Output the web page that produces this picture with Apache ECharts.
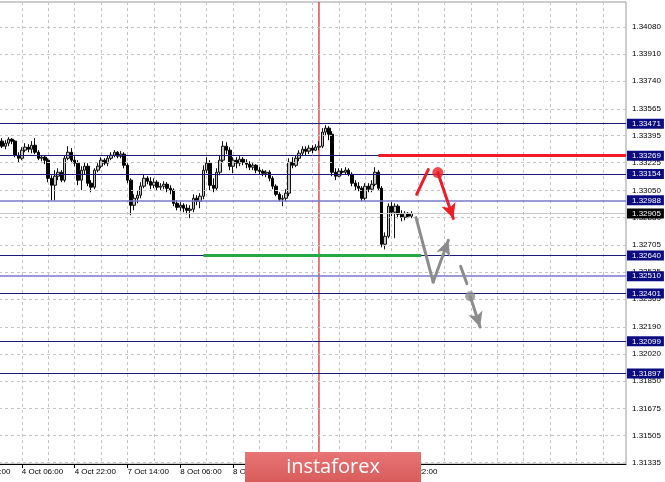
<!DOCTYPE html>
<html><head><meta charset="utf-8">
<script src="https://cdn.jsdelivr.net/npm/echarts@6/dist/echarts.min.js"></script>
<style>html,body{margin:0;padding:0;background:#fff}#c{width:665px;height:482px}</style>
</head><body><div id="c"></div>
<script>
// ---- data ----
const xTickLabels = ["3 Oct 14:00","4 Oct 06:00","4 Oct 22:00","7 Oct 14:00","8 Oct 06:00","8 Oct 22:00","9 Oct 14:00","10 Oct 06:00","10 Oct 22:00"];
const opens = [1.33317,1.33304,1.33323,1.33335,1.33317,1.33342,1.33329,1.33354,1.33335,1.33348,
1.33361,1.33329,1.33348,1.33373,1.33361,1.33272,1.33253,1.33304,1.33323,1.33310,
1.33335,1.33291,1.33253,1.33260,1.33241,1.33127,1.33083,1.33140,1.33165,1.33115,
1.33253,1.33291,1.33241,1.33222,1.33115,1.33178,1.33203,1.33096,1.33071,1.33178,
1.33203,1.33241,1.33222,1.33253,1.33272,1.33291,1.33266,1.33279,1.33209,1.33115,
1.32957,1.33001,1.33020,1.33077,1.33127,1.33108,1.33083,1.33102,1.33071,1.33077,
1.33089,1.33064,1.33052,1.32969,1.32944,1.32957,1.32938,1.32925,1.32932,1.33001,
1.32982,1.33014,1.33178,1.33222,1.33083,1.33064,1.33165,1.33241,1.33329,1.33304,
1.33203,1.33241,1.33222,1.33247,1.33228,1.33216,1.33197,1.33209,1.33178,1.33171,
1.33159,1.33165,1.33127,1.33077,1.33026,1.32995,1.33001,1.33033,1.33228,1.33209,
1.33253,1.33285,1.33310,1.33298,1.33317,1.33304,1.33323,1.33329,1.33418,1.33443,
1.33405,1.33165,1.33140,1.33171,1.33165,1.33178,1.33152,1.33096,1.33077,1.33064,
1.33001,1.33077,1.33058,1.33089,1.33165,1.33064,1.32711,1.32761,1.32951,1.32913,
1.32951,1.32900,1.32881,1.32906,1.32888];
const closes = [1.33304,1.33323,1.33335,1.33317,1.33342,1.33329,1.33354,1.33335,1.33348,1.33361,
1.33329,1.33348,1.33373,1.33361,1.33272,1.33253,1.33304,1.33323,1.33310,1.33335,
1.33291,1.33253,1.33260,1.33241,1.33127,1.33083,1.33140,1.33165,1.33115,1.33253,
1.33291,1.33241,1.33222,1.33115,1.33178,1.33203,1.33096,1.33071,1.33178,1.33203,
1.33241,1.33222,1.33253,1.33272,1.33291,1.33266,1.33279,1.33209,1.33115,1.32957,
1.33001,1.33020,1.33077,1.33127,1.33108,1.33083,1.33102,1.33071,1.33077,1.33089,
1.33064,1.33052,1.32969,1.32944,1.32957,1.32938,1.32925,1.32932,1.33001,1.32982,
1.33014,1.33178,1.33222,1.33083,1.33064,1.33165,1.33241,1.33329,1.33304,1.33203,
1.33241,1.33222,1.33247,1.33228,1.33216,1.33197,1.33209,1.33178,1.33171,1.33159,
1.33165,1.33127,1.33077,1.33026,1.32995,1.33001,1.33033,1.33228,1.33209,1.33253,
1.33285,1.33310,1.33298,1.33317,1.33304,1.33323,1.33329,1.33418,1.33443,1.33405,
1.33165,1.33140,1.33171,1.33165,1.33178,1.33152,1.33096,1.33077,1.33064,1.33001,
1.33077,1.33058,1.33089,1.33165,1.33064,1.32711,1.32761,1.32951,1.32913,1.32951,
1.32900,1.32881,1.32906,1.32888,1.32905];
const lows = [1.33291,1.33298,1.33310,1.33304,1.33310,1.33317,1.33323,1.33329,1.33323,1.33335,
1.33317,1.33310,1.33329,1.33342,1.33260,1.33228,1.33241,1.33291,1.33291,1.33285,
1.33279,1.33241,1.33234,1.33216,1.33102,1.32988,1.32988,1.33115,1.33102,1.33102,
1.33241,1.33222,1.33203,1.33083,1.33052,1.33152,1.33077,1.33039,1.33058,1.33165,
1.33190,1.33209,1.33203,1.33241,1.33260,1.33253,1.33253,1.33190,1.33096,1.32894,
1.32925,1.32969,1.33001,1.33064,1.33089,1.33058,1.33064,1.33052,1.33052,1.33058,
1.33039,1.33026,1.32951,1.32925,1.32919,1.32913,1.32900,1.32875,1.32913,1.32957,
1.32938,1.32995,1.33159,1.33052,1.33039,1.33052,1.33146,1.33228,1.33279,1.33178,
1.33159,1.33190,1.33203,1.33209,1.33190,1.33178,1.33178,1.33159,1.33152,1.33140,
1.33134,1.33108,1.33058,1.33014,1.32982,1.32951,1.32982,1.33014,1.33190,1.33197,
1.33234,1.33266,1.33272,1.33279,1.33285,1.33298,1.33304,1.33317,1.33392,1.33367,
1.33140,1.33115,1.33134,1.33146,1.33152,1.33140,1.33077,1.33052,1.33045,1.32982,
1.32988,1.33039,1.33039,1.33077,1.33052,1.32692,1.32679,1.32749,1.32888,1.32749,
1.32875,1.32856,1.32862,1.32875,1.32875];
const highs = [1.33329,1.33335,1.33348,1.33342,1.33354,1.33354,1.33367,1.33367,1.33361,1.33373,
1.33380,1.33367,1.33386,1.33380,1.33367,1.33291,1.33323,1.33348,1.33342,1.33361,
1.33380,1.33304,1.33272,1.33272,1.33253,1.33146,1.33178,1.33190,1.33178,1.33272,
1.33329,1.33317,1.33266,1.33241,1.33203,1.33228,1.33222,1.33115,1.33190,1.33222,
1.33260,1.33253,1.33272,1.33291,1.33304,1.33298,1.33298,1.33291,1.33222,1.33127,
1.33026,1.33052,1.33102,1.33152,1.33140,1.33134,1.33127,1.33115,1.33096,1.33108,
1.33102,1.33083,1.33064,1.32988,1.32976,1.32969,1.32963,1.32957,1.33026,1.33020,
1.33033,1.33209,1.33260,1.33241,1.33127,1.33190,1.33272,1.33361,1.33354,1.33323,
1.33260,1.33260,1.33266,1.33260,1.33247,1.33234,1.33228,1.33216,1.33197,1.33184,
1.33178,1.33178,1.33140,1.33089,1.33039,1.33020,1.33058,1.33253,1.33260,1.33272,
1.33304,1.33329,1.33329,1.33335,1.33335,1.33342,1.33361,1.33443,1.33462,1.33455,
1.33424,1.33190,1.33190,1.33190,1.33197,1.33190,1.33165,1.33115,1.33102,1.33077,
1.33096,1.33096,1.33115,1.33197,1.33178,1.33077,1.32786,1.32969,1.32976,1.32969,
1.32963,1.32925,1.32919,1.32913,1.32919];
const yTicks = [1.31335,1.31505,1.31675,1.31850,1.32020,1.32190,1.32365,1.32535,1.32705,1.32880,1.33050,1.33225,1.33395,1.33565,1.33740,1.33910,1.34080];
const darkLevels = [1.33471,1.33269,1.33154,1.32640,1.32401,1.32099,1.31897];
const lightLevels = [1.32988,1.32510];
const bidPrice = 1.32905;
const separatorIndex = 106;
const resistance = {value:1.33269, from:124, to:199};
const support = {value:1.32640, from:71, to:137};
const redUp = [[135.6,1.33026],[139.1,1.33182]];
const redDown = [[142.0,1.33163],[146.7,1.32873]];
const redDot = [142.0,1.33163];
const grayDown = [[135.4,1.32879],[140.6,1.32473]];
const grayUp = [[140.6,1.32473],[145.2,1.32736]];
const grayDash = [[148.9,1.32572],[150.8,1.32463]];
const grayDot = [151.8,1.32383];
const grayLast = [[151.8,1.32383],[154.8,1.32189]];
const totalSlots = 200;
const yMin = 1.31326, yMax = 1.34238;

// ---- chart ----
const FONT = 'Liberation Sans';
const cats = [];
for (let i = 0; i < totalSlots; i++) cats.push(String(i));
const candles = opens.map((o, i) => [o, closes[i], lows[i], highs[i]]);
const fmt = v => Number(v).toFixed(5);
const NAVY = '#1a1a78', LIGHT = '#7878cc', RED = '#ee1c25', GRAY = '#8c8c8c', GREEN = '#26a845', SEP = '#d42020';

function levelLabel(bg) {
  return {show:true, position:'end', distance:1, formatter: p => fmt(p.value),
    backgroundColor:bg, color:'#fff', fontFamily:FONT, fontSize:8, padding:[1,3,0,5], lineHeight:9};
}
function seg(pts, arrow) {
  return [{coord:pts[0], symbol:'none'}, {coord:pts[1], symbol: arrow ? 'arrow' : 'none', symbolSize:[11,15]}];
}
function hLine(z, color, width, label, values) {
  return {type:'line', data:[], silent:true, z,
    markLine:{silent:true, precision:5, symbol:'none', lineStyle:{color, type:'solid', width},
      label: label || {show:false}, data: values.map(v => ({yAxis:v}))}};
}

const option = {
  animation:false,
  backgroundColor:'#fff',
  grid:{left:-31, right:39, top:2, bottom:18, outerBoundsMode:'none', containLabel:false,
    show:true, borderColor:'#9a9a9a', borderWidth:1},
  xAxis:[{
    type:'category', data:cats, boundaryGap:false,
    axisLine:{show:true, lineStyle:{color:'#000', width:1}},
    axisTick:{show:true, length:4, lineStyle:{color:'#000'},
      interval:(i)=> i % 16 === 0 && i <= 134},
    axisLabel:{show:true, interval:(i)=> i % 16 === 0 && i/16 < xTickLabels.length,
      formatter:(v, i)=> (i % 16 === 0 && i/16 < xTickLabels.length) ? xTickLabels[i/16] : '',
      align:'left', margin:4, color:'#000', fontFamily:FONT, fontSize:8, showMinLabel:true},
    splitLine:{show:true, interval:(i)=> i % 8 === 0, lineStyle:{color:'#c4c4c4', type:[3,3], width:1}}
  },{
    type:'value', min:0, max:totalSlots-1, show:false
  }],
  yAxis:{
    type:'value', position:'right', min:yMin, max:yMax,
    axisLine:{show:true, lineStyle:{color:'#000'}},
    axisTick:{show:true, length:4, customValues:yTicks, lineStyle:{color:'#000'}},
    axisLabel:{show:true, customValues:yTicks, formatter:v=>fmt(v), margin:6, color:'#000', fontFamily:FONT, fontSize:8},
    splitLine:{show:false}
  },
  graphic:[
    {type:'rect', z:100, zlevel:1, shape:{x:245, y:452, width:176, height:32},
      style:{fill:new echarts.graphic.LinearGradient(0,0,0,1,[{offset:0,color:'#e87474'},{offset:1,color:'#d85a5a'}])}},
    {type:'text', z:101, zlevel:1, x:333, y:467, style:{text:'instaforex', fill:'#fff', font:'20px "Open Sans"', align:'center', verticalAlign:'middle'}}
  ],
  series:[
    {type:'line', data:[], silent:true, z:1,
      markLine:{silent:true, precision:5, symbol:'none', label:{show:false},
        lineStyle:{color:'#c4c4c4', type:[3,3], width:1},
        data: yTicks.map(v => ({yAxis:v}))}},
    hLine(2, '#c8c8c8', 1, levelLabel('#000'), [bidPrice]),
    {type:'line', xAxisIndex:1, silent:true, z:2, symbol:'none', color:SEP,
      lineStyle:{color:SEP, width:1.2, type:'solid'},
      data:[[separatorIndex, yMin],[separatorIndex, yMax]]},
    {type:'candlestick', data:candles, z:3, barWidth:3,
      itemStyle:{color:'#c8c8c8', color0:'#000', borderColor:'#111', borderColor0:'#000', borderWidth:1}},
    hLine(4, NAVY, 1, levelLabel('#0b0b82'), darkLevels),
    hLine(4, LIGHT, 1.6, levelLabel('#0b0b82'), lightLevels),
    {type:'line', data:[], silent:true, z:5,
      markLine:{silent:true, precision:5, symbol:'none', label:{show:false},
        lineStyle:{color:RED, type:'solid', width:3},
        data:[[{coord:[String(resistance.from), resistance.value]},{coord:[String(resistance.to), resistance.value]}]]}},
    {type:'line', data:[], silent:true, z:5,
      markLine:{silent:true, precision:5, symbol:'none', label:{show:false},
        lineStyle:{color:GREEN, type:'solid', width:3},
        data:[[{coord:[String(support.from), support.value]},{coord:[String(support.to), support.value]}]]}},
    {type:'line', data:[], xAxisIndex:1, silent:true, z:6,
      markLine:{silent:true, precision:5, label:{show:false}, lineStyle:{color:RED, width:3, type:'solid', cap:'round'},
        data:[seg(redUp, false), seg(redDown, true)]}},
    {type:'line', data:[], xAxisIndex:1, silent:true, z:6,
      markLine:{silent:true, precision:5, label:{show:false}, lineStyle:{color:GRAY, width:3, type:'solid', cap:'round'},
        data:[seg(grayDown, false), seg(grayUp, true), seg(grayDash, false), seg(grayLast, true)]}},
    {type:'scatter', xAxisIndex:1, silent:true, z:7, symbolSize:11, itemStyle:{color:RED}, data:[redDot]},
    {type:'scatter', xAxisIndex:1, silent:true, z:7, symbolSize:10, itemStyle:{color:GRAY}, data:[grayDot]}
  ]
};
const chart = echarts.init(document.getElementById('c'), null, {renderer:'canvas'});
chart.setOption(option);
</script></body></html>
